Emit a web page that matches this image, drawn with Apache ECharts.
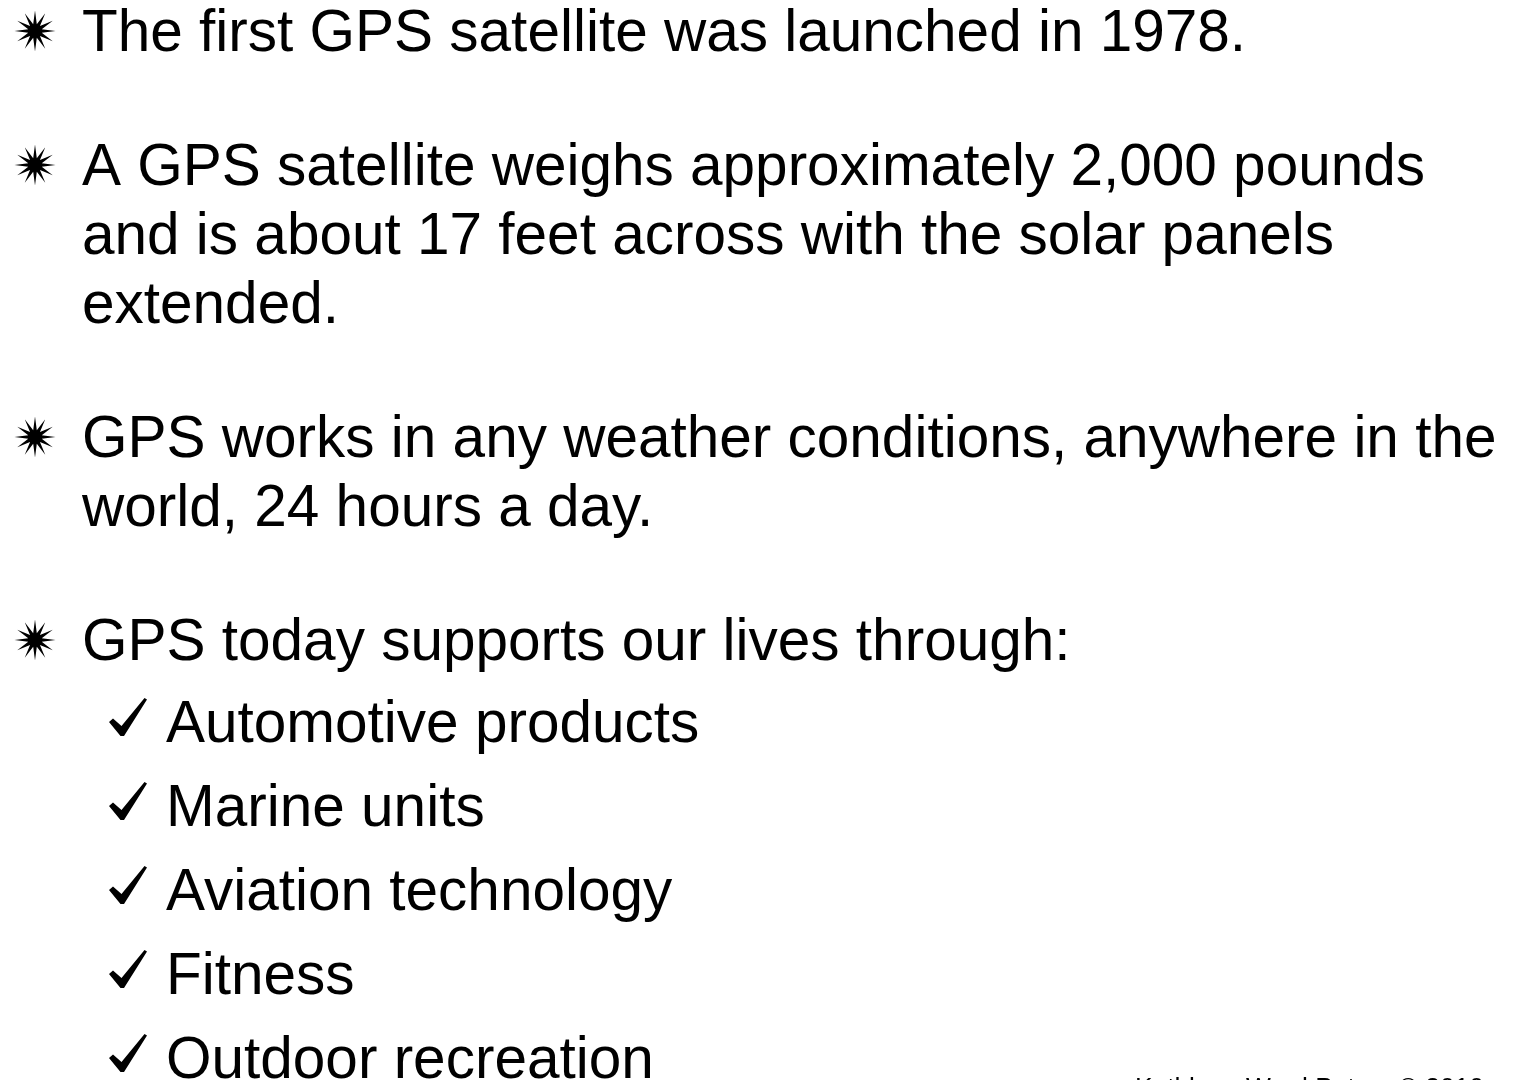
<!DOCTYPE html>
<html>
<head>
<meta charset="utf-8">
<title>GPS facts</title>
<script src="https://cdn.jsdelivr.net/npm/echarts@6/dist/echarts.min.js"></script>
<style>
  html, body { margin: 0; padding: 0; background: #fff; }
  #chart { width: 1517px; height: 1080px; }
</style>
</head>
<body>
<div id="chart"></div>
<script>
// slide content
const bulletItems = [
  ['The first GPS satellite was launched in 1978.'],
  ['A GPS satellite weighs approximately 2,000 pounds',
   'and is about 17 feet across with the solar panels',
   'extended.'],
  ['GPS works in any weather conditions, anywhere in the',
   'world, 24 hours a day.'],
  ['GPS today supports our lives through:']
];
const subItems = [
  'Automotive products',
  'Marine units',
  'Aviation technology',
  'Fitness',
  'Outdoor recreation'
];
const footerText = 'Kathleen Ward Peters \u00a9 2010';

const chart = echarts.init(document.getElementById('chart'));

const font = '"Liberation Sans", Arial, sans-serif';
const textSize = 58.5;
const lineGap = 69;
const paraGap = 134;
const subGap = 84;

// 12-ray star bullet shape
function starPoints(cx, cy, rOut, rIn) {
  const pts = [];
  for (let k = 0; k < 24; k++) {
    const a = -Math.PI / 2 + k * Math.PI / 12;
    const r = k % 2 === 0 ? rOut : rIn;
    pts.push([cx + r * Math.cos(a), cy + r * Math.sin(a)]);
  }
  return pts;
}

// check mark shape, 38px box
const checkShape = [[0, 24], [4, 20.5], [12.5, 28], [35.5, 0], [38, 1.5], [15, 38], [11.5, 38]];

const elements = [];
let y = 35;

bulletItems.forEach((lines, i) => {
  if (i > 0) y += paraGap - lineGap;
  elements.push({
    type: 'polygon',
    shape: { points: starPoints(35, y - 4, 20.5, 7) },
    style: { fill: '#000' }
  });
  lines.forEach((line, j) => {
    if (j > 0) y += lineGap;
    elements.push({
      type: 'text',
      x: 82, y: y,
      style: {
        text: line, font: textSize + 'px ' + font, fill: '#000',
        align: 'left', verticalAlign: 'middle'
      }
    });
  });
  y += lineGap;
});

// sub-items with check marks
y = y - lineGap + 82;
subItems.forEach((item, i) => {
  if (i > 0) y += subGap;
  elements.push({
    type: 'polygon',
    shape: { points: checkShape.map(p => [109 + p[0], y - 28 + p[1]]) },
    style: { fill: '#000' }
  });
  elements.push({
    type: 'text',
    x: 166, y: y,
    style: {
      text: item, font: textSize + 'px ' + font, fill: '#000',
      align: 'left', verticalAlign: 'middle'
    }
  });
});

// footer, cut off by the bottom edge
elements.push({
  type: 'text',
  x: 1135, y: 1089,
  style: {
    text: footerText, font: '26.3px ' + font, fill: '#000',
    align: 'left', verticalAlign: 'middle'
  }
});

chart.setOption({
  backgroundColor: '#fff',
  animation: false,
  graphic: { elements: elements }
});
</script>
</body>
</html>
